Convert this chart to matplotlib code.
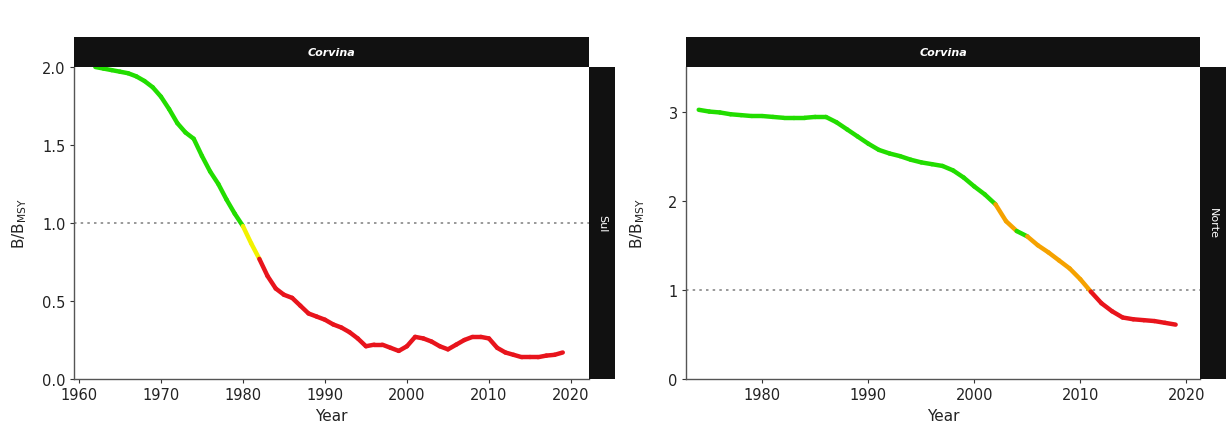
import matplotlib
matplotlib.use("Agg")
import matplotlib.pyplot as plt
from matplotlib.collections import LineCollection
import numpy as np

# ---- data ----
years_sul = list(range(1962, 2020))
b_sul = [2.00, 1.99, 1.98, 1.97, 1.96, 1.94, 1.91, 1.87, 1.81, 1.73,
         1.64, 1.58, 1.54, 1.43, 1.33, 1.25, 1.15, 1.06, 0.98, 0.87,
         0.77, 0.66, 0.58, 0.54, 0.52, 0.47, 0.42, 0.40, 0.38, 0.35,
         0.33, 0.30, 0.26, 0.21, 0.22, 0.22, 0.20, 0.18, 0.21, 0.27,
         0.26, 0.24, 0.21, 0.19, 0.22, 0.25, 0.27, 0.27, 0.26, 0.20,
         0.17, 0.155, 0.14, 0.14, 0.14, 0.15, 0.155, 0.17]
# status of each segment starting at that year
status_sul = (["green"] * 18 + ["yellow"] * 2 + ["red"] * 38)

years_norte = list(range(1974, 2020))
b_norte = [3.02, 3.00, 2.99, 2.97, 2.96, 2.95, 2.95, 2.94, 2.93, 2.93,
           2.93, 2.94, 2.94, 2.88, 2.80, 2.72, 2.64, 2.57, 2.53, 2.50,
           2.46, 2.43, 2.41, 2.39, 2.34, 2.26, 2.16, 2.07, 1.96, 1.77,
           1.66, 1.60, 1.50, 1.42, 1.33, 1.24, 1.12, 0.98, 0.85, 0.76,
           0.69, 0.67, 0.66, 0.65, 0.63, 0.61]
status_norte = (["green"] * 28 + ["orange"] * 2 + ["green"] * 1 +
                ["orange"] * 6 + ["red"] * 9)

species = "Corvina"
regions = ["Sul", "Norte"]

colour_map = {"green": "#22dd00", "yellow": "#f2f200",
              "orange": "#f5a200", "red": "#e8141c"}

W, H = 1226, 427
fig = plt.figure(figsize=(W / 100, H / 100), dpi=100)


def fx(px):
    return px / W


def fy(py):
    return 1 - py / H


panels = [
    dict(years=years_sul, b=b_sul, st=status_sul, region=regions[0],
         ax=(74, 589, 68, 380), strip_r=(589, 615), xlim=(1959.4, 2022.2),
         ylim=(0, 2.0), yticks=[0, 0.5, 1.0, 1.5, 2.0],
         ytl=["0.0", "0.5", "1.0", "1.5", "2.0"],
         xticks=[1960, 1970, 1980, 1990, 2000, 2010, 2020], ylab_x=20),
    dict(years=years_norte, b=b_norte, st=status_norte, region=regions[1],
         ax=(686, 1200, 68, 380), strip_r=(1200, 1226), xlim=(1972.8, 2021.3),
         ylim=(0, 3.5), yticks=[0, 1, 2, 3], ytl=["0", "1", "2", "3"],
         xticks=[1980, 1990, 2000, 2010, 2020], ylab_x=638),
]

for p in panels:
    x0, x1, y0, y1 = p["ax"]
    ax = fig.add_axes([fx(x0), fy(y1), fx(x1 - x0), (y1 - y0) / H])
    ax.set_xlim(*p["xlim"])
    ax.set_ylim(*p["ylim"])
    ax.set_facecolor("white")
    for s in ["top", "right"]:
        ax.spines[s].set_visible(False)
    for s in ["left", "bottom"]:
        ax.spines[s].set_color("#555555")
        ax.spines[s].set_linewidth(1.0)
    ax.axhline(1.0, color="#888888", linestyle=(0, (1.5, 2.5)), linewidth=1.2,
               zorder=1)
    yrs = np.array(p["years"], dtype=float)
    bb = np.array(p["b"], dtype=float)
    segs = [[(yrs[i], bb[i]), (yrs[i + 1], bb[i + 1])] for i in range(len(yrs) - 1)]
    cols = [colour_map[c] for c in p["st"][:len(segs)]]
    lc = LineCollection(segs, colors=cols, linewidths=3.2, capstyle="round",
                        joinstyle="round", zorder=3)
    ax.add_collection(lc)
    ax.set_xticks(p["xticks"])
    ax.set_yticks(p["yticks"])
    ax.set_yticklabels(p["ytl"])
    ax.tick_params(axis="both", labelsize=10.5, colors="#333333", length=3,
                   width=0.8, pad=3)
    ax.tick_params(axis="both", labelcolor="#222222")
    ax.set_xlabel("Year", fontsize=11, color="#222222", labelpad=4)
    fig.text(fx(p["ylab_x"]), fy((y0 + y1) / 2),
             r"B/B$_{\mathregular{MSY}}$", rotation=90, fontsize=11,
             color="#222222", ha="center", va="center")

    # top strip
    sax = fig.add_axes([fx(x0), fy(y0), fx(x1 - x0), 30 / H])
    sax.set_facecolor("#111111")
    sax.set_xticks([])
    sax.set_yticks([])
    for s in sax.spines.values():
        s.set_visible(False)
    sax.text(0.5, 0.5, species, color="white", fontsize=8, fontweight="bold",
             fontstyle="italic", ha="center", va="center",
             transform=sax.transAxes)

    # right strip
    r0, r1 = p["strip_r"]
    rax = fig.add_axes([fx(r0), fy(y1), fx(r1 - r0), (y1 - y0) / H])
    rax.set_facecolor("#111111")
    rax.set_xticks([])
    rax.set_yticks([])
    for s in rax.spines.values():
        s.set_visible(False)
    rax.text(0.5, 0.5, p["region"], color="white", fontsize=8,
             rotation=-90, ha="center", va="center", transform=rax.transAxes)

fig.savefig("out.png", dpi=100, facecolor="white")
